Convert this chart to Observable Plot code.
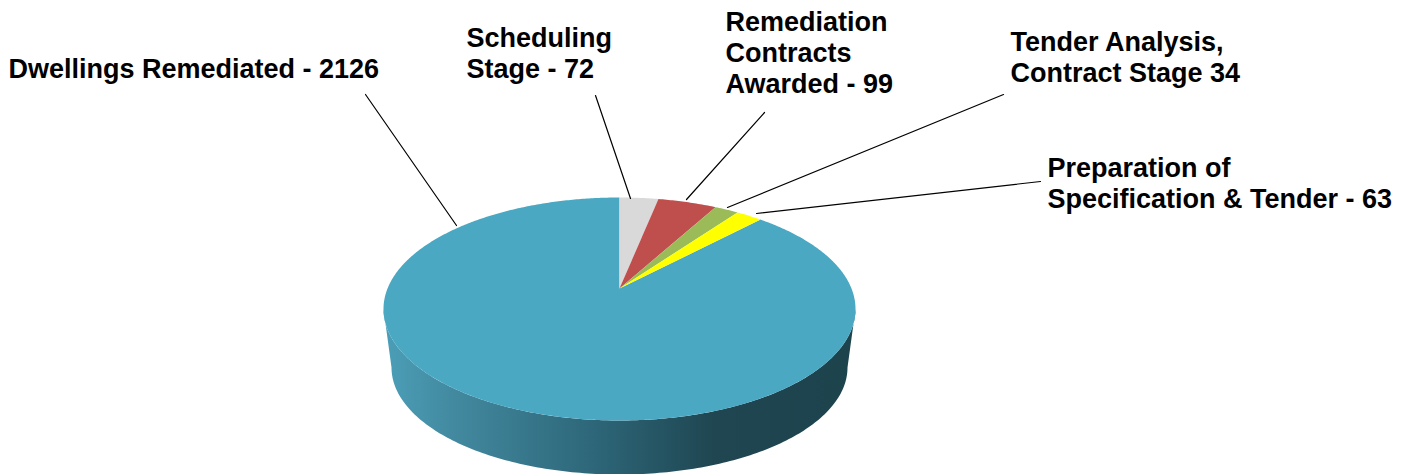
<!DOCTYPE html>
<html>
<head>
<meta charset="utf-8">
<script src="https://cdn.jsdelivr.net/npm/d3@7"></script>
<script src="https://cdn.jsdelivr.net/npm/@observablehq/plot@0.6"></script>
<style>
html,body{margin:0;padding:0;background:#fff;overflow:hidden}
svg{display:block}
</style>
</head>
<body>
<div id="chart"></div>
<script>
// Slice data, clockwise from 12 o'clock
const categories = ["Scheduling Stage", "Remediation Contracts Awarded", "Tender Analysis, Contract Stage", "Preparation of Specification & Tender", "Dwellings Remediated"];
const printedValues = [72, 99, 34, 63, 2126];
// Sweep of each slice (degrees): the drawn slices do not
// strictly follow the printed values, so the geometry uses what is actually drawn.
const drawnSweeps = [9.5, 14.5, 6, 6.7, 323.3];
const sliceColors = ["#d9d9d9", "#be4f4c", "#9bbb59", "#ffff00", "#4aa8c3"];
const labelTexts = [
  "Scheduling\nStage - 72",
  "Remediation\nContracts\nAwarded - 99",
  "Tender Analysis,\nContract Stage 34",
  "Preparation of\nSpecification & Tender - 63",
  "Dwellings Remediated - 2126"
];

// Layout (in the plot's own coordinate system)
const W = 1408, H = 474;
const top_ = {cx: 619, cy: 308.5, rx: 236, ry: 111.5, apexY: 288};
const base = {cx: 619, cy: 367, rx: 228, ry: 107};
const labelAnchors = [[466, 52.5], [725, 52], [1010, 56.5], [1047, 182.5], [8, 67.5]];
const leaderEnds = [
  [[595, 95], [630, 198]],
  [[764, 112], [686, 199]],
  [[1003, 94], [727, 207]],
  [[1040, 181], [756, 213]],
  [[365, 94], [456, 225]]
];

const rad = d => d * Math.PI / 180;
const rim = (e, deg) => ({x: e.cx + e.rx * Math.sin(rad(deg)), y: e.cy - e.ry * Math.cos(rad(deg))});

// Wedges of the top face
let start = 0;
const wedges = [];
drawnSweeps.forEach((sweep, i) => {
  const end = start + sweep;
  wedges.push({x: top_.cx, y: top_.apexY, i});
  const n = Math.max(4, Math.ceil(sweep * 2));
  for (let k = 0; k <= n; k++) wedges.push({...rim(top_, start + sweep * k / n), i});
  wedges.push({x: top_.cx, y: top_.apexY, i});
  start = end;
});

// Side wall: the front half of the top rim to the front half of the base rim
const side = [];
d3.range(90, 270.5, 1).forEach(a => side.push(rim(top_, a)));
d3.range(270, 89.5, -1).forEach(a => side.push(rim(base, a)));

const labels = labelTexts.map((text, i) => ({text, category: categories[i], value: printedValues[i], x: labelAnchors[i][0], y: labelAnchors[i][1]}));
const leaders = leaderEnds.flatMap((pts, i) => pts.map(([x, y]) => ({x, y, i})));

const gradient = () => {
  const ns = "http://www.w3.org/2000/svg";
  const defs = document.createElementNS(ns, "defs");
  const g = document.createElementNS(ns, "linearGradient");
  g.setAttribute("id", "sideShade");
  g.setAttribute("x1", "0"); g.setAttribute("x2", "1"); g.setAttribute("y1", "0"); g.setAttribute("y2", "0");
  [[0, "#4b9fb8"], [0.15, "#42899f"], [0.45, "#2d6678"], [0.7, "#1f4651"], [1, "#1d434d"]].forEach(([o, c]) => {
    const s = document.createElementNS(ns, "stop");
    s.setAttribute("offset", o); s.setAttribute("stop-color", c);
    g.appendChild(s);
  });
  defs.appendChild(g);
  return defs;
};

const chart = Plot.plot({
  width: W, height: H,
  margin: 0,
  x: {domain: [0, W], range: [0, W], axis: null},
  y: {domain: [0, H], range: [0, H], axis: null},
  marks: [
    gradient,
    Plot.line(side, {x: "x", y: "y", fill: "url(#sideShade)", stroke: "none"}),
    // the blue slice goes first so the small slices sit on top of it
    Plot.line(wedges.filter(d => d.i === 4), {x: "x", y: "y", fill: sliceColors[4], stroke: "none"}),
    ...[0, 1, 2, 3].map(i => Plot.line(wedges.filter(d => d.i === i), {x: "x", y: "y", fill: sliceColors[i], stroke: "none"})),
    Plot.line(leaders, {x: "x", y: "y", z: "i", stroke: "#000", strokeWidth: 1.2}),
    Plot.text(labels, {
      x: "x", y: "y", text: "text",
      textAnchor: "start", lineHeight: 1.15,
      fontFamily: "Liberation Sans", fontWeight: "bold", fontSize: 27, fill: "#000"
    })
  ]
});
document.getElementById("chart").appendChild(chart);
</script>
</body>
</html>
